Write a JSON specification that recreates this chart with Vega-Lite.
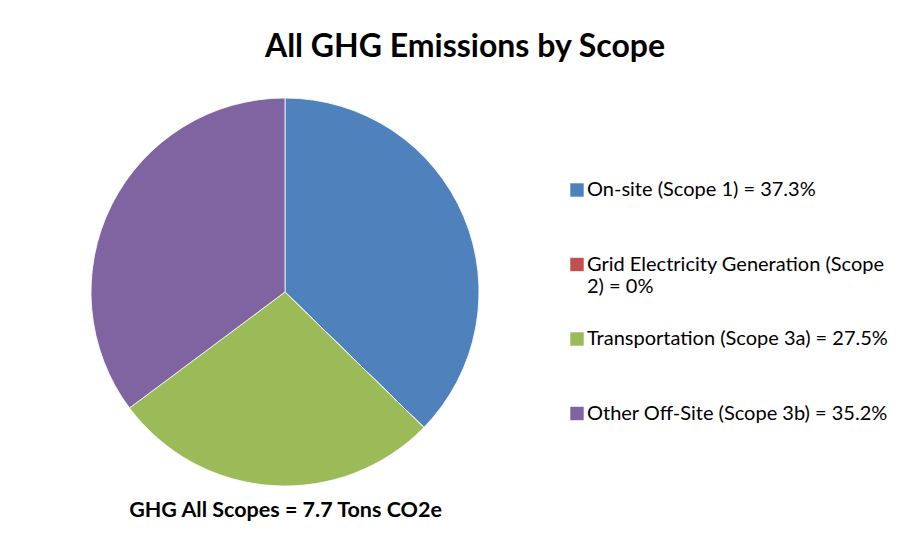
{
  "$schema": "https://vega.github.io/schema/vega-lite/v6.json",
  "width": 490,
  "height": 400,
  "autosize": {"type": "none"},
  "padding": {"left": 40, "top": 92, "right": 387, "bottom": 45},
  "background": "white",
  "title": {
    "text": "All GHG Emissions by Scope",
    "font": "Lato",
    "fontSize": 32,
    "fontWeight": "bold",
    "color": "black",
    "anchor": "middle",
    "frame": "group",
    "dx": 180,
    "offset": 28
  },
  "data": {
    "values": [
      {"scope": "On-site (Scope 1) = 37.3%", "pct": 37.3, "idx": 1},
      {"scope": "Grid Electricity Generation (Scope 2) = 0%", "pct": 0, "idx": 2},
      {"scope": "Transportation (Scope 3a) = 27.5%", "pct": 27.5, "idx": 3},
      {"scope": "Other Off-Site (Scope 3b) = 35.2%", "pct": 35.2, "idx": 4}
    ]
  },
  "mark": {"type": "arc", "outerRadius": 194, "stroke": "white", "strokeWidth": 0.8},
  "encoding": {
    "theta": {"field": "pct", "type": "quantitative", "stack": true},
    "order": {"field": "idx", "type": "quantitative"},
    "x": {
      "datum": "All Scopes",
      "type": "nominal",
      "axis": {
        "title": "GHG All Scopes = 7.7 Tons CO2e",
        "titleFont": "Lato",
        "titleFontSize": 21.5,
        "titleFontWeight": "bold",
        "titleColor": "black",
        "titlePadding": 7,
        "labels": false,
        "ticks": false,
        "domain": false,
        "grid": false
      }
    },
    "color": {
      "field": "scope",
      "type": "nominal",
      "scale": {
        "domain": [
          "On-site (Scope 1) = 37.3%",
          "Grid Electricity Generation (Scope 2) = 0%",
          "Transportation (Scope 3a) = 27.5%",
          "Other Off-Site (Scope 3b) = 35.2%"
        ],
        "range": ["#4F81BD", "#C0504D", "#9BBB59", "#8064A2"]
      },
      "legend": {
        "orient": "none",
        "legendX": 527,
        "legendY": 88,
        "title": null,
        "padding": 0,
        "symbolType": "square",
        "symbolSize": 180,
        "symbolStrokeWidth": 0,
        "symbolOpacity": 1,
        "labelFont": "Lato",
        "labelFontSize": 20,
        "labelColor": "black",
        "labelLimit": 500,
        "labelOffset": 0,
        "labelBaseline": "middle",
        "rowPadding": 32.5,
        "gridAlign": "all",
        "labelExpr": "datum.label == 'Grid Electricity Generation (Scope 2) = 0%' ? ['Grid Electricity Generation (Scope', '2) = 0%'] : datum.label"
      }
    }
  },
  "config": {"view": {"stroke": null}}
}
